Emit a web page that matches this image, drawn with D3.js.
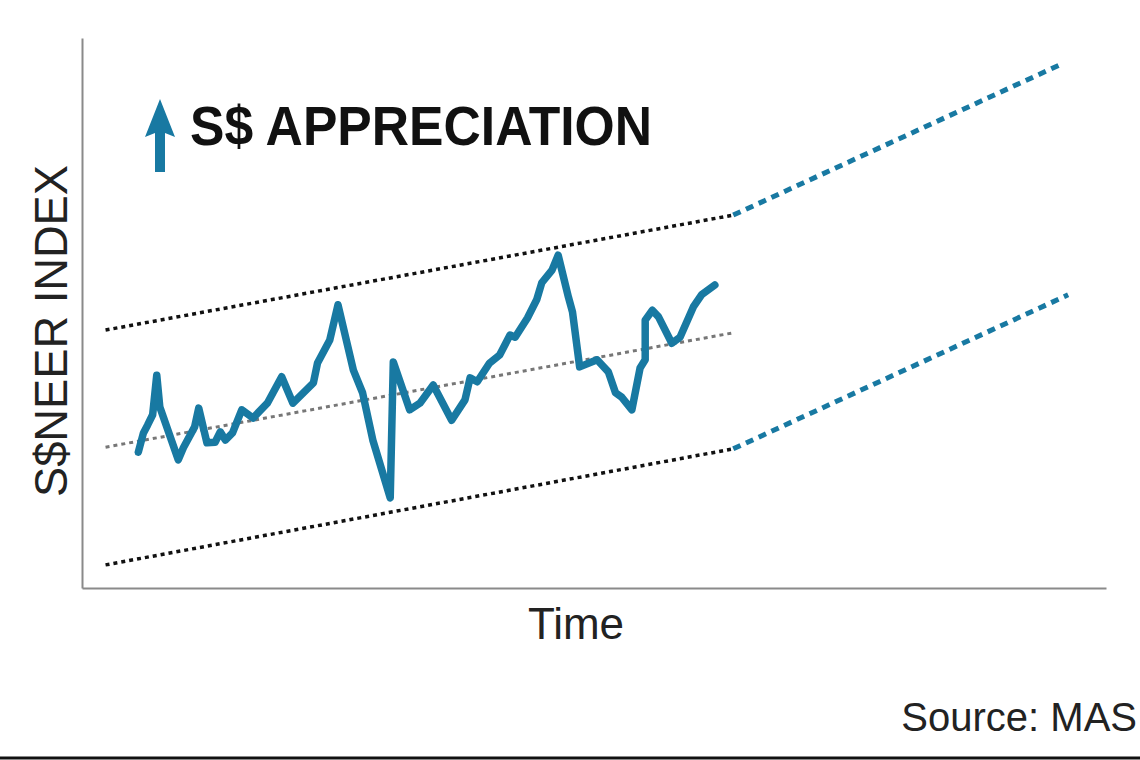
<!DOCTYPE html>
<html>
<head>
<meta charset="utf-8">
<script src="https://cdn.jsdelivr.net/npm/d3@7"></script>
<style>
  html, body { margin: 0; padding: 0; background: #fff; }
  svg { display: block; }
</style>
</head>
<body>
<svg width="1140" height="760"></svg>
<script>
const width = 1140
const height = 760

// S$NEER index (time units 0-100, index units 0-100)
const timeIdx = [5.5, 6.0, 6.4, 6.9, 7.3, 7.6, 9.4, 9.9, 11.0, 11.4, 12.2, 13.0, 13.5, 14.0, 14.7, 15.6, 16.7, 18.1, 19.5, 20.6,
  22.6, 23.0, 24.2, 25.0, 26.5, 27.4, 28.4, 30.1, 30.4, 32.0, 33.0, 34.3, 36.1, 37.4, 37.9, 38.6, 39.8, 40.8, 41.8, 42.3,
  43.5, 44.4, 44.9, 45.9, 46.5, 47.5, 47.9, 48.6, 50.3, 51.4, 52.1, 52.7, 53.7, 54.5, 55.0, 55.0, 55.7, 56.3, 57.6, 58.4,
  59.7, 60.5, 61.8]
const sneer = [24.7, 28.2, 29.6, 31.5, 38.7, 32.9, 23.3, 25.5, 29.3, 32.7, 26.4, 26.5, 28.4, 26.9, 28.2, 32.4, 30.9, 33.6, 38.4, 33.6,
  37.3, 40.9, 45.1, 51.5, 39.6, 35.5, 26.9, 16.4, 41.1, 32.4, 33.6, 36.9, 30.5, 34.2, 38.2, 37.5, 40.9, 42.4, 46.0, 45.6,
  49.1, 52.4, 55.5, 57.8, 60.5, 52.9, 50.2, 40.2, 41.5, 39.3, 35.5, 34.7, 32.4, 40.0, 41.5, 48.7, 50.5, 49.3, 44.5, 45.6,
  51.1, 53.3, 55.1]

// policy band (past) and projected band
const bandTime = [2.3, 63.6]
const bandUpper = [46.9, 67.8]
const bandMid = [25.6, 46.4]
const bandLower = [4.2, 25.3]
const projUpperTime = [63.6, 95.7]
const projUpper = [67.8, 95.3]
const projLowerTime = [63.6, 96.3]
const projLower = [25.3, 53.3]

const titleText = "S$ APPRECIATION"
const yLabel = "S$NEER INDEX"
const xLabel = "Time"
const sourceText = "Source: MAS"

const blue = "#1879a2"

const margin = {top: 38, right: 34, bottom: 172, left: 82}
const plotW = width - margin.left - margin.right
const plotH = height - margin.top - margin.bottom

const svg = d3.select("svg")

const x = d3.scaleLinear().domain([0, 100]).range([margin.left, margin.left + plotW])
const y = d3.scaleLinear().domain([0, 100]).range([margin.top + plotH, margin.top])

// axes (no ticks)
svg.append("g")
  .attr("transform", `translate(0,${margin.top + plotH})`)
  .call(d3.axisBottom(x).ticks(0).tickSize(0).tickSizeOuter(0))
  .call(g => g.select(".domain").attr("stroke", "#8a8a8a").attr("stroke-width", 2))
svg.append("g")
  .attr("transform", `translate(${margin.left},0)`)
  .call(d3.axisLeft(y).ticks(0).tickSize(0).tickSizeOuter(0))
  .call(g => g.select(".domain").attr("stroke", "#8a8a8a").attr("stroke-width", 2))

const line = d3.line().x(d => x(d[0])).y(d => y(d[1]))

function seg(ts, vs) { return ts.map((t, i) => [t, vs[i]]) }

// band edges
svg.append("path").attr("d", line(seg(bandTime, bandUpper)))
  .attr("fill", "none").attr("stroke", "#111").attr("stroke-width", 3.5).attr("stroke-dasharray", "4 4")
svg.append("path").attr("d", line(seg(bandTime, bandLower)))
  .attr("fill", "none").attr("stroke", "#111").attr("stroke-width", 3.5).attr("stroke-dasharray", "4 4")
svg.append("path").attr("d", line(seg(bandTime, bandMid)))
  .attr("fill", "none").attr("stroke", "#777").attr("stroke-width", 3).attr("stroke-dasharray", "4 4")

// projection
svg.append("path").attr("d", line(seg(projUpperTime, projUpper)))
  .attr("fill", "none").attr("stroke", blue).attr("stroke-width", 5).attr("stroke-dasharray", "8 6")
svg.append("path").attr("d", line(seg(projLowerTime, projLower)))
  .attr("fill", "none").attr("stroke", blue).attr("stroke-width", 5).attr("stroke-dasharray", "8 6")

// S$NEER line
svg.append("path")
  .attr("d", line(seg(timeIdx, sneer)))
  .attr("fill", "none")
  .attr("stroke", blue)
  .attr("stroke-width", 7.5)
  .attr("stroke-linejoin", "round")
  .attr("stroke-linecap", "round")

// appreciation arrow + title
const arrow = svg.append("g").attr("transform", "translate(160,0)")
arrow.append("rect").attr("x", -5).attr("y", 128).attr("width", 10).attr("height", 44).attr("fill", blue)
arrow.append("path").attr("d", "M0,99 L15,137 L0,131 L-15,137 Z").attr("fill", blue)

svg.append("text")
  .attr("x", 190).attr("y", 145)
  .attr("font-family", "Liberation Sans, Arial, sans-serif")
  .attr("font-weight", "bold")
  .attr("font-size", 55)
  .attr("textLength", 462)
  .attr("lengthAdjust", "spacingAndGlyphs")
  .attr("fill", "#111")
  .text(titleText)

// axis labels
svg.append("text")
  .attr("transform", "translate(67,331) rotate(-90)")
  .attr("text-anchor", "middle")
  .attr("font-family", "Liberation Sans, Arial, sans-serif")
  .attr("font-size", 47)
  .attr("textLength", 332)
  .attr("lengthAdjust", "spacingAndGlyphs")
  .attr("fill", "#222")
  .text(yLabel)

svg.append("text")
  .attr("x", 576).attr("y", 639)
  .attr("text-anchor", "middle")
  .attr("font-family", "Liberation Sans, Arial, sans-serif")
  .attr("font-size", 44)
  .attr("fill", "#222")
  .text(xLabel)

svg.append("text")
  .attr("x", 1137).attr("y", 731)
  .attr("text-anchor", "end")
  .attr("font-family", "Liberation Sans, Arial, sans-serif")
  .attr("font-size", 40)
  .attr("fill", "#222")
  .text(sourceText)

// bottom rule
svg.append("line")
  .attr("x1", 0).attr("x2", width)
  .attr("y1", 758).attr("y2", 758)
  .attr("stroke", "#111").attr("stroke-width", 3)
</script>
</body>
</html>
